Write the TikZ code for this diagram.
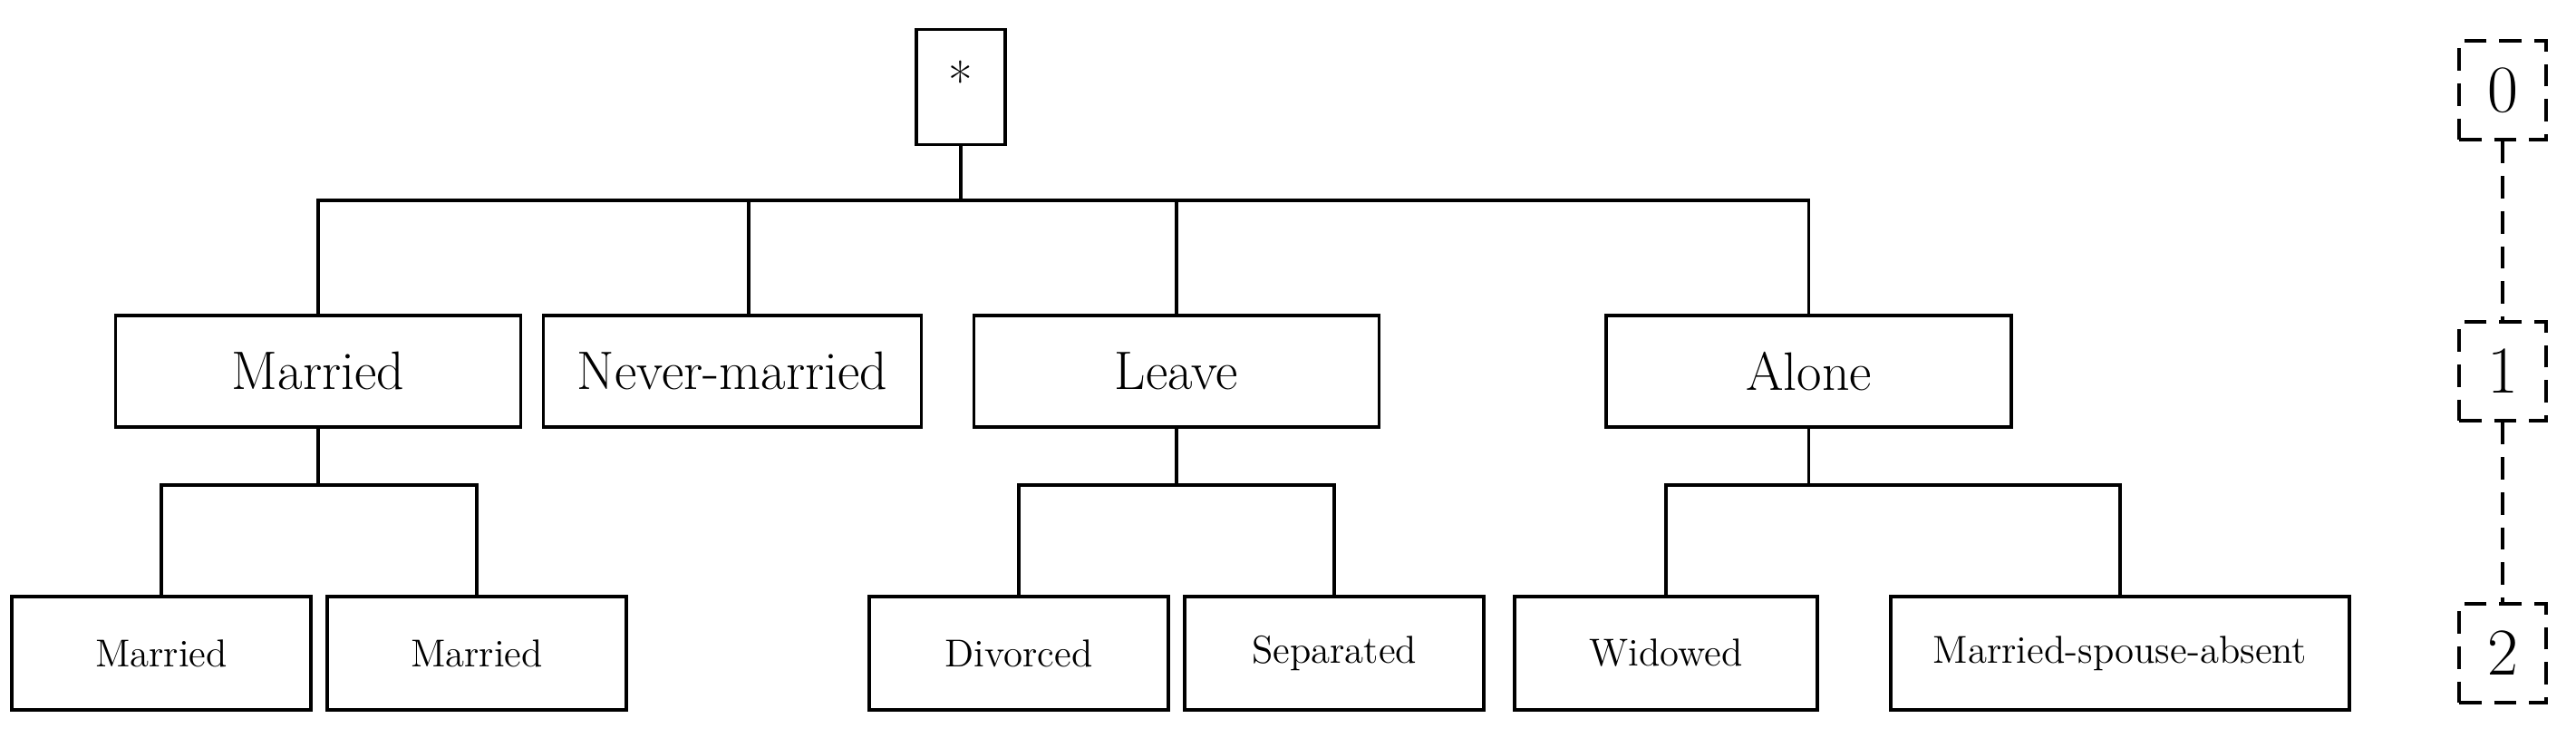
\documentclass[tikz,border=0pt]{standalone}
\usetikzlibrary{positioning, calc}

\begin{document}
\begin{tikzpicture}[
    catbox/.style={draw, line width=1.1pt, minimum height=1.23cm,
      minimum width=4.47cm, inner sep=0pt, text centered,
      font=\fontsize{17}{20}\selectfont},
    subbox/.style={draw, line width=1.1pt, minimum height=1.25cm,
      minimum width=3.3cm, inner sep=0pt, text centered,
      font=\fontsize{12.2}{14}\selectfont},
    lvlbox/.style={draw, line width=0.9pt, dash pattern=on 7pt off 4pt,
      minimum width=0.96cm, minimum height=1.09cm, inner sep=0pt,
      font=\fontsize{21}{24}\selectfont},
    link/.style={line width=1pt}
  ]
  \useasboundingbox (0,0) rectangle (28.42,8.13);

  % root
  \node[draw, line width=1.1pt, minimum width=0.98cm, minimum height=1.27cm,
        font=\fontsize{16.5}{20}\selectfont] (root) at (10.60,7.17)
    {\raisebox{0.6ex}{*}};

  % first level
  \node[catbox] (married) at (3.51,4.035) {Married};
  \node[catbox, minimum width=4.17cm] (never) at (8.08,4.035) {Never-married};
  \node[catbox] (leave) at (12.98,4.035) {Leave};
  \node[catbox] (alone) at (19.955,4.035) {Alone};

  % second level
  \node[subbox] (marriedA) at (1.78,0.925) {Married};
  \node[subbox] (marriedB) at (5.26,0.925) {Married};
  \node[subbox] (divorced) at (11.24,0.925) {Divorced};
  \node[subbox] (separated) at (14.72,0.925) {Separated};
  \node[subbox, minimum width=3.34cm] (widowed) at (18.38,0.925) {Widowed};
  \node[subbox, minimum width=5.06cm] (absent) at (23.39,0.925)
    {Married-spouse-absent};

  % bus heights
  \coordinate (busroot) at (0,5.92);
  \coordinate (busleaf) at (0,2.78);

  \foreach \kid in {married, leave, alone}
    \draw[link] (root.south) -- (root.south |- busroot) -| (\kid.north);
  \draw[link] (root.south |- busroot) -| ([xshift=0.18cm]never.north);
  \foreach \up/\kid in {married/marriedA, married/marriedB,
                       leave/divorced, leave/separated,
                       alone/widowed, alone/absent}
    \draw[link] (\up.south) -- (\up.south |- busleaf) -| (\kid.north);

  % level markers
  \node[lvlbox] (lvl0) at (27.61,7.135) {0};
  \node[lvlbox] (lvl1) at (27.61,4.035) {1};
  \node[lvlbox] (lvl2) at (27.61,0.925) {2};
  \draw[line width=0.9pt, dash pattern=on 7pt off 4pt] (lvl0) -- (lvl1);
  \draw[line width=0.9pt, dash pattern=on 7pt off 4pt] (lvl1) -- (lvl2);
\end{tikzpicture}
\end{document}
